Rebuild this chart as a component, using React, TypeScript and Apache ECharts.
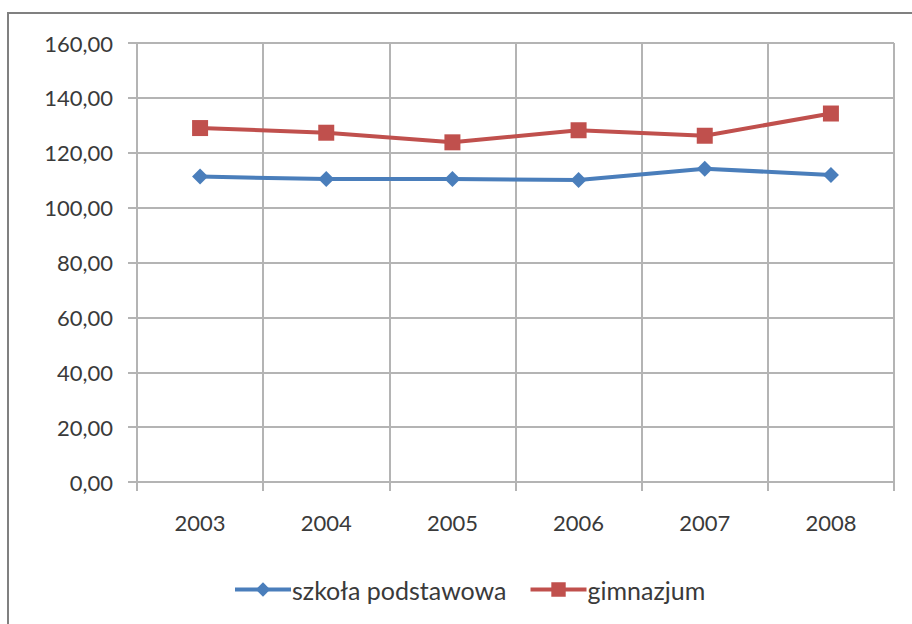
import React, { useEffect, useRef } from "react";
import * as echarts from "echarts";

const years = ["2003", "2004", "2005", "2006", "2007", "2008"];
const szkolaPodstawowa = [111.3, 110.4, 110.4, 110.1, 114.2, 111.9];
const gimnazjum = [129.0, 127.3, 123.8, 128.2, 126.2, 134.3];
const seriesNames = ["szkoła podstawowa", "gimnazjum"];

const FONT = "Lato";
const TEXT = "#3a3a3a";
const GRID = "#b4b4b4";

export default function App() {
  const ref = useRef<HTMLDivElement>(null);
  useEffect(() => {
    const chart = echarts.init(ref.current!, null, { renderer: "svg" });
    chart.setOption({
      animation: false,
      backgroundColor: "#ffffff",
      graphic: [
        {
          type: "rect",
          shape: { x: 8, y: 13, width: 1000, height: 700 },
          style: { fill: "none", stroke: "#808080", lineWidth: 2 },
          silent: true,
          z: -1,
        },
      ],
      grid: { left: 137, right: 18, top: 43, bottom: 142 },
      legend: {
        top: 572,
        left: 228,
        itemWidth: 56,
        itemHeight: 18,
        itemGap: 22,
        lineStyle: { width: 4 },
        textStyle: { fontFamily: FONT, fontSize: 25, color: TEXT, padding: [0, 0, 0, -4] },
        data: seriesNames,
      },
      xAxis: {
        type: "category",
        data: years,
        boundaryGap: true,
        axisLine: { show: true, lineStyle: { color: GRID, width: 2 } },
        axisTick: { show: true, length: 9, lineStyle: { color: GRID, width: 2 } },
        splitLine: { show: true, lineStyle: { color: GRID, width: 2 } },
        axisLabel: { fontFamily: FONT, fontSize: 22, color: TEXT, margin: 29 },
      },
      yAxis: {
        type: "value",
        min: 0,
        max: 160,
        interval: 20,
        axisLine: { show: true, lineStyle: { color: GRID, width: 2 } },
        axisTick: { show: true, length: 9, lineStyle: { color: GRID, width: 2 } },
        splitLine: { show: true, lineStyle: { color: GRID, width: 2 } },
        axisLabel: {
          fontFamily: FONT,
          fontSize: 22,
          color: TEXT,
          margin: 24,
          formatter: (v: number) => v.toFixed(2).replace(".", ","),
        },
      },
      series: [
        {
          name: seriesNames[0],
          type: "line",
          data: szkolaPodstawowa,
          symbol: "diamond",
          symbolSize: 16,
          lineStyle: { color: "#4a7ebb", width: 4 },
          itemStyle: { color: "#4a7ebb" },
        },
        {
          name: seriesNames[1],
          type: "line",
          data: gimnazjum,
          symbol: "rect",
          symbolSize: 16,
          lineStyle: { color: "#c0504d", width: 4 },
          itemStyle: { color: "#c0504d" },
        },
      ],
    });
    return () => chart.dispose();
  }, []);
  return (
    <div
      ref={ref}
      style={{ position: "fixed", left: 0, top: 0, width: 912, height: 624 }}
    />
  );
}
